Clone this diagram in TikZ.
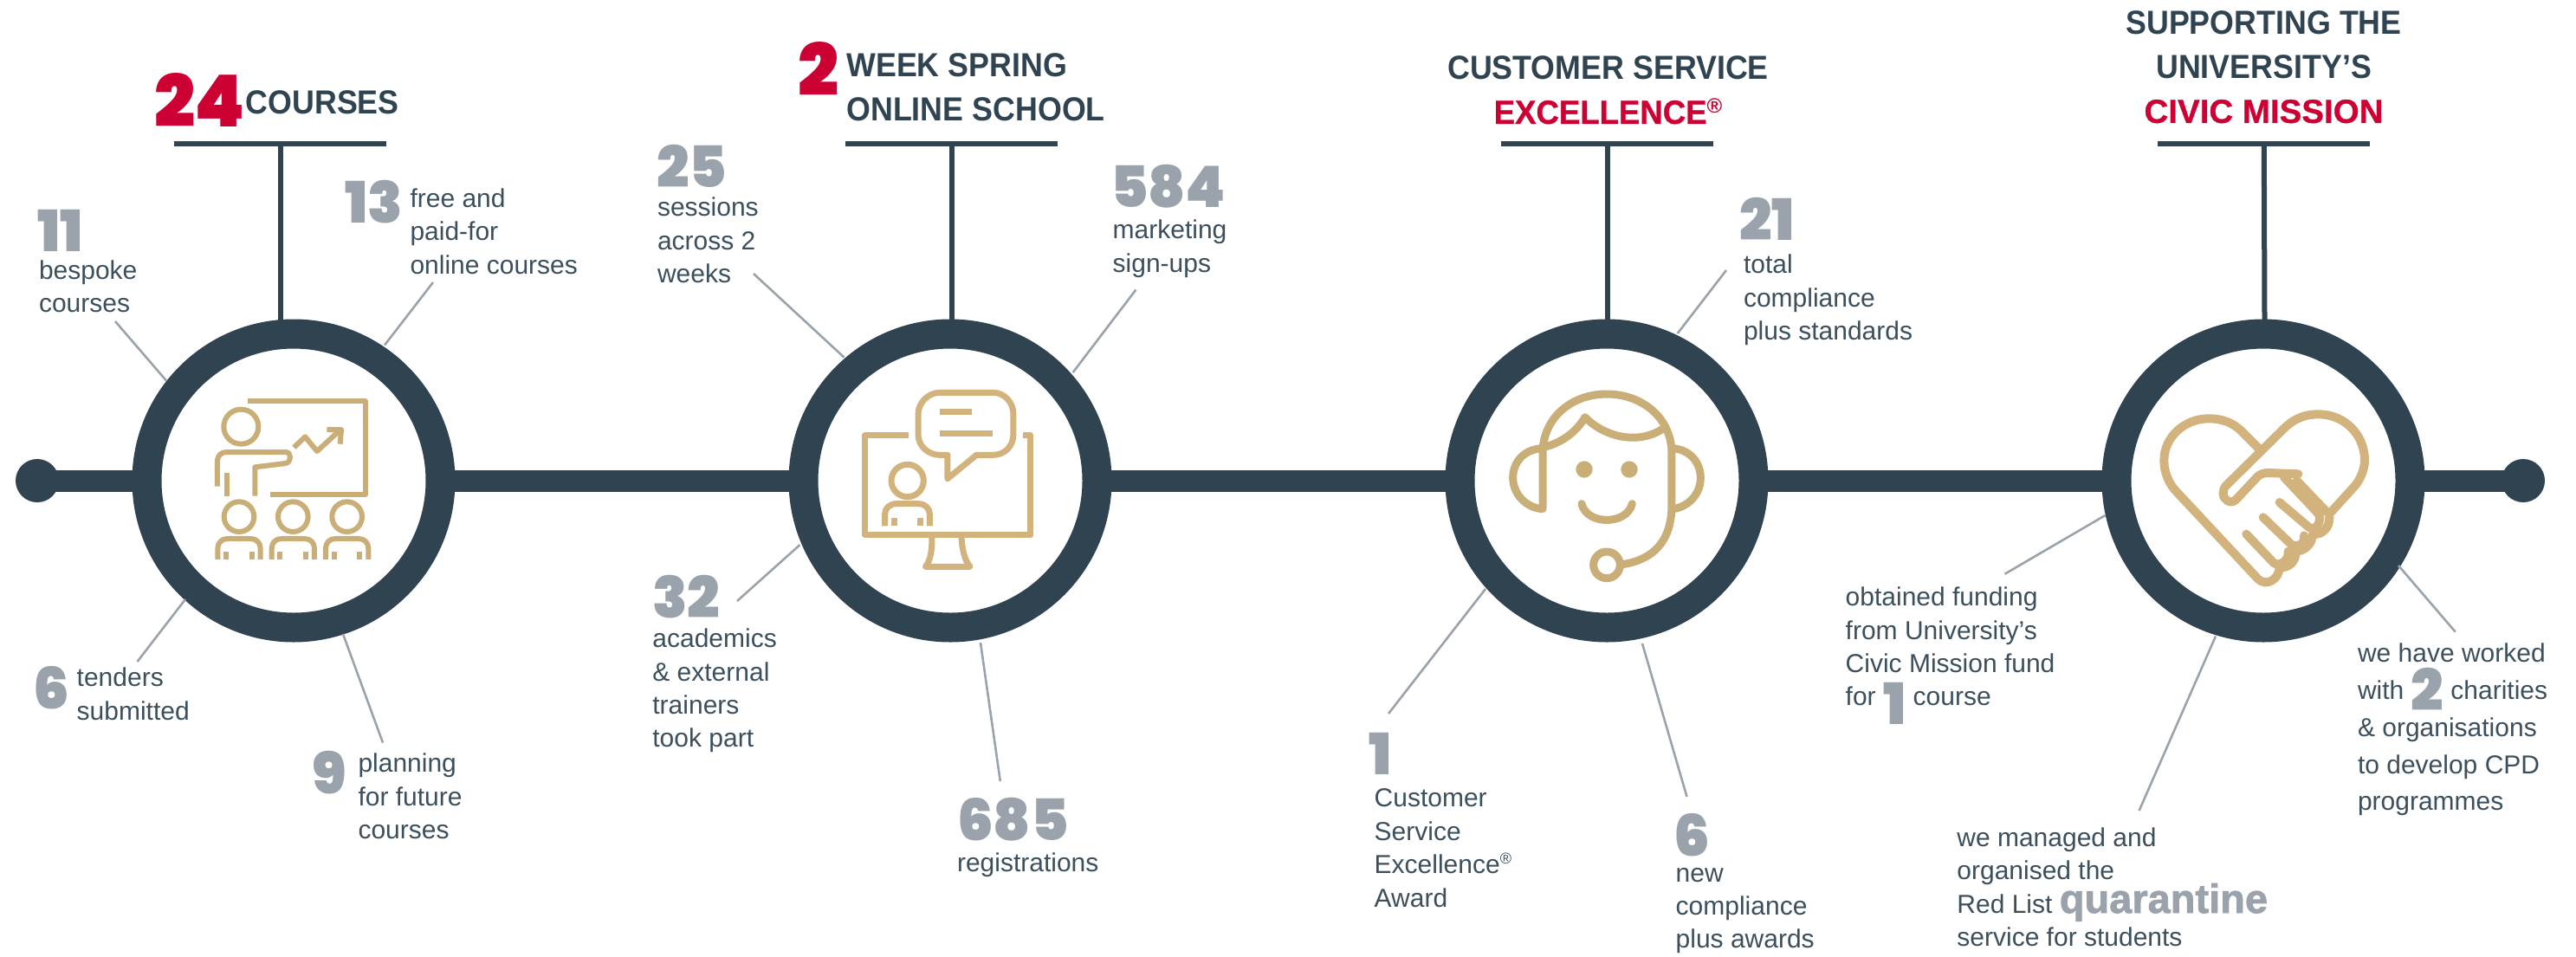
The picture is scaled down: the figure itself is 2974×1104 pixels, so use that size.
\documentclass[tikz,border=0pt]{standalone}
\usepackage{fontspec}
\setmainfont{Liberation Sans}
\newfontfamily\bodyfamily{Liberation Sans}[FakeStretch=1.0]
\newfontfamily\headfamily{Liberation Sans}[FakeStretch=0.93]
\newfontfamily\redfamilyA{Liberation Sans}[FakeStretch=0.95,FakeBold=0.7]
\newfontfamily\redfamilyB{Liberation Sans}[FakeStretch=1.0,FakeBold=0.7]
\newfontfamily\quarfamily{Liberation Sans}[FakeBold=1.6]
\newfontfamily\numfamily{Poppins Black}
\definecolor{ink}{HTML}{2F4350}
\definecolor{bodyink}{HTML}{3C4F5C}
\definecolor{crimson}{HTML}{CC0033}
\definecolor{slategrey}{HTML}{9AA3AB}
\definecolor{goldA}{HTML}{C9AE78}
\definecolor{goldB}{HTML}{D2B37D}
\newcommand{\numf}{\fontsize{66}{66}\selectfont\numfamily}
\newcommand{\inlinenum}[2]{\smash{\raisebox{-#1pt}{\textcolor{slategrey}{\numf #2}}}}
\tikzset{
  ring/.style={circle,draw=ink,fill=white,line width=34pt,minimum size=339pt,inner sep=0pt,outer sep=16pt},
  enddot/.style={circle,fill=ink,minimum size=50pt,inner sep=0pt,outer sep=0pt},
  timeline/.style={draw=ink,line width=25pt},
  stem/.style={draw=ink,line width=6pt},
  leader/.style={draw=slategrey,line width=2.6pt},
  txt/.style={anchor=north west,inner sep=0pt,outer sep=0pt,yshift=22pt,align=left,text=bodyink,
    font=\fontsize{30}{38.4}\selectfont\bodyfamily,execute at begin node={\rule{0pt}{24pt}}},
  txtwide/.style={txt,font=\fontsize{30}{42.8}\selectfont\bodyfamily},
  bignum/.style={anchor=base west,inner sep=0pt,outer sep=0pt,yshift=-1pt,text=slategrey,font=\numf},
  rednum/.style={anchor=base west,inner sep=0pt,outer sep=0pt,text=crimson,font=\fontsize{83}{83}\selectfont\numfamily},
  headbase/.style={anchor=base west,inner sep=0pt,outer sep=0pt,text=ink,font=\fontsize{38.5}{50.5}\selectfont\headfamily\bfseries},
  headl/.style={anchor=north west,inner sep=0pt,outer sep=0pt,yshift=28pt,align=left,text=ink,
    font=\fontsize{38.5}{51}\selectfont\headfamily\bfseries,execute at begin node={\rule{0pt}{30pt}}},
  headc/.style={headl,anchor=north,align=center},
  bar/.style={draw=none,fill=ink,inner sep=0pt,minimum height=6pt},
  iconA/.style={draw=goldA,line width=6pt,line join=round},
  iconB/.style={draw=goldB,line width=7pt,line join=round},
  iconC/.style={draw=goldA,line width=9pt,line join=round,line cap=round},
  iconD/.style={draw=goldB,line width=10pt,line join=round,line cap=round},
}
\begin{document}
\begin{tikzpicture}[x=1pt,y=-1pt]
\useasboundingbox (0,0) rectangle (2974,1104);

% rings and end dots
\node[enddot] (dl) at (43,555) {};
\node[enddot] (dr) at (2913,555) {};
\node[ring] (r1) at (339,555) {};
\node[ring] (r2) at (1097,555) {};
\node[ring] (r3) at (1855,555) {};
\node[ring] (r4) at (2613,555) {};
\draw[timeline] (dl.center) -- (r1);
\draw[timeline] (r1) -- (r2);
\draw[timeline] (r2) -- (r3);
\draw[timeline] (r3) -- (r4);
\draw[timeline] (r4) -- (dr.center);

% heading bars and stems
\node[bar,minimum width=245pt] (b1) at (323.5,166) {};
\node[bar,minimum width=245pt] (b2) at (1098.6,166) {};
\node[bar,minimum width=245pt] (b3) at (1855.6,166) {};
\node[bar,minimum width=245pt] (b4) at (2613.8,166) {};
\coordinate (s1) at (323.5,370);
\coordinate (s2) at (1098.6,370);
\coordinate (s3) at (1855.6,370);
\coordinate (s4) at (2614.5,370);
\draw[stem] (b1.center) -- (s1);
\draw[stem] (b2.center) -- (s2);
\draw[stem] (b3.center) -- (s3);
\draw[stem] (b4.center) -- (s4);

% headings
\node[rednum] (n24) at (178,146) {24};
\node[headbase] (h1) at (283.6,131) {COURSES};
\node[rednum] (n2r) at (921,110.5) {2};
\node[headl] (h2) at (977.4,90) {WEEK SPRING\\ONLINE SCHOOL};
\node[headc] (h3) at (1856.5,93) {CUSTOMER SERVICE\\\textcolor{crimson}{\redfamilyA EXCELLENCE\raisebox{12pt}{\fontsize{24}{24}\selectfont\bodyfamily ®}}};
\node[headc] (h4) at (2613.5,41) {SUPPORTING THE\\UNIVERSITY’S\\\textcolor{crimson}{\redfamilyB CIVIC MISSION}};

% group 1
\node[bignum] (n11) at (43,289) {11};
\node[txt] (t11) at (45,322.5) {bespoke\\courses};
\node[bignum] (n13) at (398,256) {13};
\node[txt] (t13) at (473.5,239.5) {free and\\paid-for\\online courses};
\node[bignum] (n6a) at (38,817) {6};
\node[txt] (t6a) at (88.7,793) {tenders\\submitted};
\node[bignum] (n9) at (360,915) {9};
\node[txt] (t9) at (413.5,892) {planning\\for future\\courses};
\coordinate (l1a) at (133,371); \coordinate (l1b) at (192.4,440);
\coordinate (l2a) at (500,326); \coordinate (l2b) at (444,398.5);
\coordinate (l3a) at (158.5,764); \coordinate (l3b) at (214,692);
\coordinate (l4a) at (442,857.6); \coordinate (l4b) at (396,732);
\draw[leader] (l1a) -- (l1b);
\draw[leader] (l2a) -- (l2b);
\draw[leader] (l3a) -- (l3b);
\draw[leader] (l4a) -- (l4b);

% group 2
\node[bignum] (n25) at (758,215.5) {25};
\node[txt] (t25) at (759,250) {sessions\\across 2\\weeks};
\node[bignum] (n584) at (1282,238) {584};
\node[txt] (t584) at (1284.7,276) {marketing\\sign-ups};
\node[bignum] (n32) at (753,712.5) {32};
\node[txt] (t32) at (753.4,748) {academics\\\& external\\trainers\\took part};
\node[bignum] (n685) at (1105,969.6) {685};
\node[txt] (t685) at (1105,1004) {registrations};
\coordinate (l5a) at (870,316); \coordinate (l5b) at (974.5,412.6);
\coordinate (l6a) at (1311.4,334.5); \coordinate (l6b) at (1238.7,430);
\coordinate (l7a) at (851,694); \coordinate (l7b) at (923.6,629);
\coordinate (l8a) at (1132,742); \coordinate (l8b) at (1154.8,902);
\draw[leader] (l5a) -- (l5b);
\draw[leader] (l6a) -- (l6b);
\draw[leader] (l7a) -- (l7b);
\draw[leader] (l8a) -- (l8b);

% group 3
\node[bignum] (n21) at (2008,276.7) {21};
\node[txt] (t21) at (2013,316) {total\\compliance\\plus standards};
\node[bignum] (n1) at (1580,893) {1};
\node[txt] (t1) at (1586.7,933) {Customer\\Service\\Excellence\raisebox{11pt}{\fontsize{18}{18}\selectfont ®}\\Award};
\node[bignum] (n6b) at (1932,987) {6};
\node[txt] (t6b) at (1934.7,1024) {new\\compliance\\plus awards};
\coordinate (l9a) at (1993,312); \coordinate (l9b) at (1936.7,385);
\coordinate (l10a) at (1603,824); \coordinate (l10b) at (1715,680);
\coordinate (l11a) at (1896,743); \coordinate (l11b) at (1947.5,920);
\draw[leader] (l9a) -- (l9b);
\draw[leader] (l10a) -- (l10b);
\draw[leader] (l11a) -- (l11b);

% group 4
\node[txt] (t41) at (2130.7,700) {obtained funding\\from University’s\\Civic Mission fund\\for \inlinenum{22}{1} course};
\node[txtwide] (t42) at (2722,765) {we have worked\\with \inlinenum{13}{2} charities\\\& organisations\\to develop CPD\\programmes};
\node[txt] (t43) at (2259.4,977.5) {we managed and\\organised the\\Red List \smash{\textcolor{slategrey}{\fontsize{47}{47}\selectfont\quarfamily\bfseries quarantine}}\\service for students};
\coordinate (l12a) at (2314.6,662.7); \coordinate (l12b) at (2430.5,595);
\coordinate (l13a) at (2834.7,729.6); \coordinate (l13b) at (2769,653);
\coordinate (l14a) at (2558,734.5); \coordinate (l14b) at (2469.6,936);
\draw[leader] (l12a) -- (l12b);
\draw[leader] (l13a) -- (l13b);
\draw[leader] (l14a) -- (l14b);

% icon 1: presenter
\begin{scope}[shift={(180,420)},x=0.3333pt,y=-0.3333pt]
  \draw[iconA] (318,130) -- (725,130) -- (725,454) -- (397,454);
  \draw[iconA] (295,218) circle[radius=60];
  \draw[iconA] (213,425) -- (213,340) .. controls (213,318) and (225,306) .. (245,306) -- (450,306) .. controls (470,306) and (470,340) .. (450,345) -- (343,358) -- (343,458);
  \draw[iconA] (247,378) -- (247,458);
  \draw[iconA] (478,290) -- (517,253) -- (558,303) -- (640,228);
  \draw[iconA] (592,228) -- (642,228) -- (638,278);
  \foreach \d in {0,187,374}{
    \begin{scope}[xshift=\d*0.3333pt]
      \draw[iconA] (288,530) circle[radius=52];
      \draw[iconA] (214,678) -- (214,640) .. controls (214,620) and (228,606) .. (248,606) -- (328,606) .. controls (348,606) and (362,620) .. (362,640) -- (362,678);
      \draw[iconA] (243,652) -- (243,678);
      \draw[iconA] (332,652) -- (332,678);
    \end{scope}
  }
\end{scope}

% icon 2: monitor
\begin{scope}[shift={(940,420)},x=0.3333pt,y=-0.3333pt]
  \draw[iconB] (326,248) -- (175,248) -- (175,594) -- (750,594) -- (750,248) -- (722,248);
  \draw[iconB] (462,316) -- (462,398) -- (562,316) -- (620,316) .. controls (660,316) and (690,285) .. (690,245) -- (690,175) .. controls (690,135) and (660,100) .. (620,100) -- (435,100) .. controls (395,100) and (360,135) .. (360,175) -- (360,245) .. controls (360,285) and (395,316) .. (435,316) -- cycle;
  \draw[iconB] (435,167) -- (546,167);
  \draw[iconB] (435,241) -- (618,241);
  \draw[iconB] (323,405) circle[radius=56];
  \draw[iconB] (245,562) -- (245,520) .. controls (245,500) and (262,485) .. (285,485) -- (360,485) .. controls (383,485) and (400,500) .. (400,520) -- (400,562);
  \draw[iconB] (277,533) -- (277,562);
  \draw[iconB] (367,533) -- (367,562);
  \draw[iconB] (408,600) .. controls (408,640) and (405,680) .. (385,703) -- (540,703) .. controls (520,680) and (512,640) .. (510,600);
\end{scope}

% icon 3: headset
\begin{scope}[shift={(1700,420)},x=0.3333pt,y=-0.3333pt]
  \draw[iconC] (243,500) -- (243,310) .. controls (243,190) and (340,105) .. (465,105) .. controls (590,105) and (690,190) .. (690,310) -- (690,490) .. controls (690,620) and (620,680) .. (520,695);
  \draw[iconC] (243,293) .. controls (180,295) and (140,340) .. (140,395) .. controls (140,450) and (185,500) .. (243,503);
  \draw[iconC] (690,293) .. controls (750,295) and (790,340) .. (790,395) .. controls (790,450) and (750,495) .. (695,503);
  \draw[iconC] (243,290) .. controls (310,275) and (360,235) .. (390,185) .. controls (440,240) and (560,290) .. (660,225);
  \fill[goldA] (387,366) circle[radius=29] (543,366) circle[radius=29];
  \draw[iconC] (378,485) .. controls (395,560) and (535,560) .. (553,485);
  \draw[iconC] (465,697) circle[radius=46];
\end{scope}

% icon 4: heart handshake
\begin{scope}[shift={(2460,420)},x=0.3333pt,y=-0.3333pt]
  \draw[iconD] (445,295) -- (385,235) .. controls (350,200) and (310,190) .. (270,190) .. controls (185,190) and (115,255) .. (115,335) .. controls (115,380) and (135,420) .. (160,445) -- (440,745) .. controls (470,775) and (515,745) .. (515,705) .. controls (545,710) and (575,685) .. (570,650) .. controls (600,650) and (630,625) .. (630,590) .. controls (660,595) and (690,570) .. (688,530);
  \draw[iconD] (580,382) -- (475,378) .. controls (460,378) and (450,382) .. (440,390) -- (365,470) .. controls (345,490) and (320,470) .. (320,450) .. controls (320,440) and (322,430) .. (330,422) -- (530,225) .. controls (570,185) and (610,175) .. (650,175) .. controls (740,175) and (810,245) .. (810,335) .. controls (810,370) and (790,410) .. (770,430) -- (688,520);
  \draw[iconD] (530,392) -- (650,520) .. controls (665,550) and (635,585) .. (615,565) -- (515,480);
  \draw[iconD] (575,405) -- (680,515);
  \draw[iconD] (458,532) -- (555,625) .. controls (575,640) and (605,625) .. (600,595);
  \draw[iconD] (400,590) -- (495,690) .. controls (515,705) and (550,680) .. (545,650);
\end{scope}
\end{tikzpicture}
\end{document}
